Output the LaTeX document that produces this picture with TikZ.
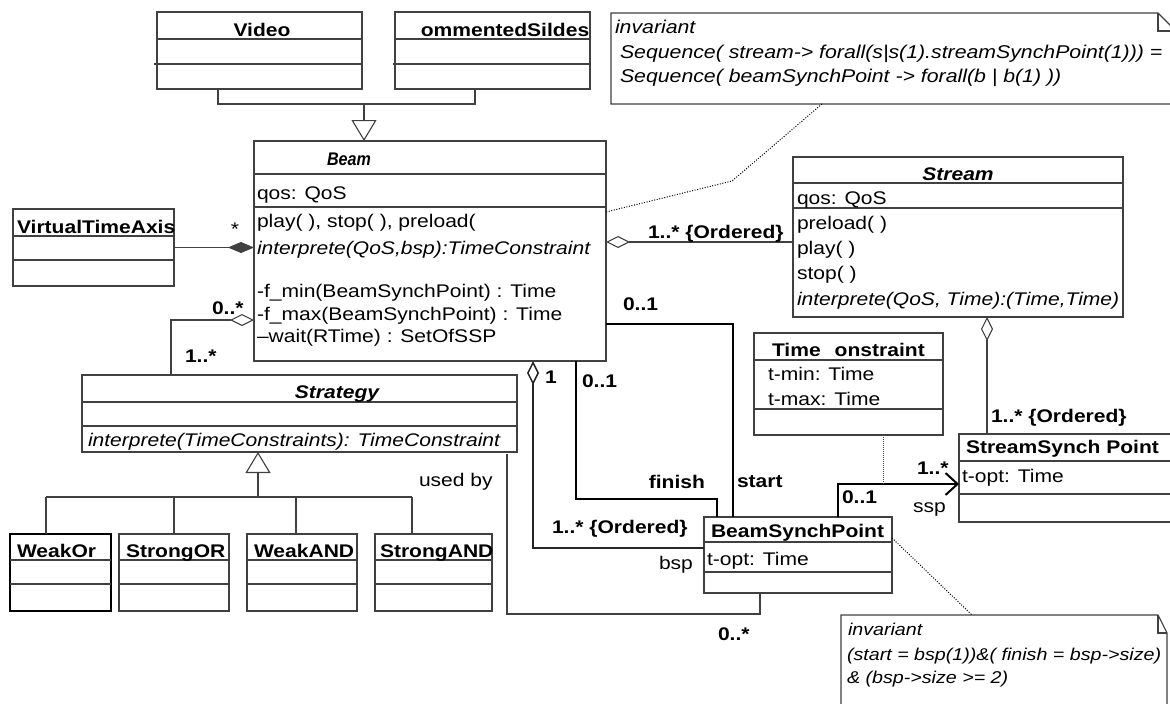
\documentclass[tikz,border=0pt]{standalone}
\usepackage{fontspec}
\setmainfont{Liberation Sans}[FakeStretch=1.15]
\newfontfamily\narrowfont{Liberation Sans}[FakeStretch=0.88]
\usetikzlibrary{arrows.meta}
\definecolor{linegray}{gray}{0.25}
\newcommand\umlfont{\fontsize{18.3}{22}\selectfont}
\newcommand\notesize{\fontsize{17.1}{22}\selectfont}
\newcommand\notebig{\fontsize{18.5}{22}\selectfont}
% class box: [options]{name}{x1}{y1}{x2}{y2}
\newcommand\umlclass[6][]{\node[umlbox,minimum width={#5-#3},minimum height={#6-#4},#1] (#2) at (#3,#4) {};}
% compartment separator across a class box
\newcommand\sepat[2]{\draw[sepline] (#1.west |- 0,#2) -- (#1.east |- 0,#2);}

\begin{document}
\begin{tikzpicture}[x=1pt,y=-1pt,
  umlbox/.style={draw=linegray,line width=1.1pt,inner sep=0pt,outer sep=0pt,anchor=north west},
  boldbox/.style={draw=black,line width=2pt},
  sepline/.style={draw=linegray,line width=1.1pt},
  txt/.style={inner sep=0pt,outer sep=0pt,anchor=base west,font=\umlfont},
  itxt/.style={txt,font=\umlfont\itshape},
  btxt/.style={txt,font=\umlfont\bfseries},
  ttl/.style={inner sep=0pt,outer sep=0pt,anchor=base,font=\umlfont\bfseries},
  ttlit/.style={ttl,font=\umlfont\bfseries\itshape},
  ntxt/.style={inner sep=0pt,outer sep=0pt,anchor=base west,font=\notebig\itshape},
  ntxtb/.style={inner sep=0pt,outer sep=0pt,anchor=base west,font=\notesize\itshape},
  assoc/.style={draw=linegray,line width=1.1pt},
  strongline/.style={draw=black,line width=2pt},
  midline/.style={draw=black!85,line width=1.5pt},
  noteline/.style={draw=black,line width=1pt,dash pattern=on 1pt off 1.6pt},
  odia/.style={arrows={Diamond[open,length=24pt,width=12pt]-}},
  fdia/.style={arrows={-Diamond[length=26pt,width=11pt]}},
  gen/.style={arrows={-Triangle[open,length=21pt,width=25pt]}},
  nav/.style={arrows={-Straight Barb[length=12pt,width=22pt]}},
]
\useasboundingbox (0,0) rectangle (1170,704);
\fill[white] (0,0) rectangle (1170,704);

% ---------- subclasses of Beam ----------
\umlclass{video}{157}{12}{362}{89}
\sepat{video}{39}
\draw[sepline] (154,64) -- (video.east |- 0,64);
\node[ttl] (video-name) at (262,36) {Video};

\umlclass{slides}{395}{12}{590}{89}
\sepat{slides}{39}
\draw[sepline] (393,64) -- (slides.east |- 0,64);
\node[ttl] (slides-name) at (505,36) {ommentedSildes};

% ---------- Beam ----------
\umlclass{beam}{254}{141}{606}{361}
\sepat{beam}{174}
\sepat{beam}{207}
\node[ttl,font=\narrowfont\umlfont\bfseries\itshape] (beam-name) at (349,165) {Beam};
\node[txt] (beam-attr) at (257,199) {qos: QoS};
\node[txt] (beam-op1) at (257,227) {play( ), stop( ), preload(};
\node[itxt] (beam-op2) at (257,254) {interprete(QoS,bsp):TimeConstraint};
\node[txt] (beam-op3) at (257,297) {-f\_min(BeamSynchPoint) : Time};
\node[txt] (beam-op4) at (257,320) {-f\_max(BeamSynchPoint) : Time};
\node[txt] (beam-op5) at (257,342) {–wait(RTime) : SetOfSSP};

% ---------- Stream ----------
\umlclass{stream}{793}{157}{1123}{317}
\sepat{stream}{183}
\sepat{stream}{208}
\node[ttlit] (stream-name) at (958,180) {Stream};
\node[txt] (stream-attr) at (797,204) {qos: QoS};
\node[txt] (stream-op1) at (797,229) {preload( )};
\node[txt] (stream-op2) at (797,254) {play( )};
\node[txt] (stream-op3) at (797,279) {stop( )};
\node[itxt] (stream-op4) at (797,305) {interprete(QoS, Time):(Time,Time)};

% ---------- VirtualTimeAxis ----------
\umlclass{vta}{13}{209}{174}{286}
\sepat{vta}{236}
\sepat{vta}{260}
\node[btxt] (vta-name) at (17,233) {VirtualTimeAxis};

% ---------- Strategy and its variants ----------
\umlclass{strategy}{82}{375}{517}{452}
\sepat{strategy}{402}
\sepat{strategy}{426}
\node[ttlit] (strategy-name) at (337,398) {Strategy};
\node[itxt] (strategy-op) at (88,446) {interprete(TimeConstraints): TimeConstraint};

\umlclass[boldbox]{weakor}{10}{534}{111}{611}
\sepat{weakor}{560}
\sepat{weakor}{584}
\node[btxt] (weakor-name) at (17,557) {WeakOr};

\umlclass{strongor}{119}{534}{229}{611}
\sepat{strongor}{560}
\sepat{strongor}{584}
\node[btxt] (strongor-name) at (126,557) {StrongOR};

\umlclass{weakand}{247}{534}{357}{611}
\sepat{weakand}{560}
\sepat{weakand}{584}
\node[btxt] (weakand-name) at (254,557) {WeakAND};

\umlclass{strongand}{375}{534}{492}{611}
\sepat{strongand}{560}
\sepat{strongand}{584}
\node[btxt] (strongand-name) at (380,557) {StrongAND};

% ---------- TimeConstraint ----------
\umlclass{tc}{754}{333}{943}{435}
\sepat{tc}{360}
\sepat{tc}{409}
\node[btxt] (tc-name) at (772,356) {Time\hspace{14pt}onstraint};
\node[txt] (tc-attr1) at (768,380) {t-min: Time};
\node[txt] (tc-attr2) at (768,405) {t-max: Time};

% ---------- StreamSynch Point ----------
\umlclass{ssync}{959}{434}{1182}{522}
\sepat{ssync}{461}
\sepat{ssync}{494}
\node[btxt] (ssync-name) at (966,453) {StreamSynch Point};
\node[txt] (ssync-attr) at (962,482) {t-opt: Time};

% ---------- BeamSynchPoint ----------
\umlclass{bsp}{704}{517}{892}{593}
\sepat{bsp}{542}
\sepat{bsp}{572}
\node[btxt] (bsp-name) at (711,537) {BeamSynchPoint};
\node[txt] (bsp-attr) at (707,565) {t-opt: Time};

% ---------- notes ----------
\node[inner sep=0pt,outer sep=0pt,minimum width=565,minimum height=91,anchor=north west] (note1) at (611,13) {};
\draw[sepline] (note1.north west) -- (1158,13) -- (1176,31) -- (1176,104) -- (note1.south west) -- cycle;
\draw[sepline] (1158,13) -- (1158,31) -- (1176,31);
\node[ntxt] (note1-l1) at (615,33) {invariant};
\node[ntxt] (note1-l2) at (620,58) {Sequence( stream-> forall(s|s(1).streamSynchPoint(1))) =};
\node[ntxt] (note1-l3) at (620,82) {Sequence( beamSynchPoint -> forall(b | b(1) ))};

\node[inner sep=0pt,outer sep=0pt,minimum width=326,minimum height=95,anchor=north west] (note2) at (841,615) {};
\draw[sepline] (note2.south west) -- (note2.north west) -- (1158,615) -- (1167,633) -- (1167,712);
\draw[sepline] (1158,615) -- (1158,633) -- (1167,633);
\node[ntxtb] (note2-l1) at (848,635) {invariant};
\node[ntxtb] (note2-l2) at (847,660) {(start = bsp(1))\&( finish = bsp->size)};
\node[ntxtb] (note2-l3) at (847,683) {\& (bsp->size >= 2)};

% ---------- generalizations ----------
\draw[assoc] (video.south -| 218,0) |- (475,104) -- (slides.south -| 475,0);
\draw[assoc,gen] (364,104) -- (beam.north -| 364,0);
\draw[assoc,gen] (258,497) -- (strategy.south -| 258,0);
\draw[assoc] (46,497) -- (412,497);
\draw[assoc] (46,497) -- (weakor.north -| 46,0);
\draw[assoc] (174,497) -- (strongor.north -| 174,0);
\draw[assoc] (296,497) -- (weakand.north -| 296,0);
\draw[assoc] (412,497) -- (strongand.north -| 412,0);

% ---------- associations ----------
\draw[assoc,fdia] (vta.east) -- (beam.west |- vta.east);
\node[inner sep=0pt,anchor=base,font=\umlfont] (vta-mult) at (235,235) {*};

\draw[assoc,odia] (beam.west |- 0,320) -| (strategy.north -| 171,0);
\node[btxt] (strat-mult1) at (212,314) {0..*};
\node[btxt] (strat-mult2) at (185,362) {1..*};

\draw[assoc,odia] (beam.east |- 0,242) -- (stream.west |- 0,242);
\node[btxt] (stream-mult) at (648,238) {1..* \{Ordered\}};

\draw[strongline] (beam.east |- 0,324) -| (bsp.north -| 733,0);
\node[btxt] (start-mult) at (623,310) {0..1};
\node[btxt] (start-role) at (737,487) {start};

\draw[strongline] (beam.south -| 576,0) |- (717,499) -- (bsp.north -| 717,0);
\node[btxt] (finish-mult) at (582,387) {0..1};
\node[btxt,anchor=base east] (finish-role) at (705,488) {finish};

\draw[midline,odia] (beam.south -| 533,0) |- (bsp.west |- 0,548);
\node[btxt] (bsp-mult1) at (545,383) {1};
\node[btxt] (bsp-mult2) at (552,533) {1..* \{Ordered\}};
\node[txt] (bsp-role) at (659,569) {bsp};

\draw[assoc] ([yshift=-2pt]strategy.south -| 507,0) |- (760,614) -- (bsp.south -| 760,0);
\node[txt] (usedby) at (419,486) {used by};
\node[btxt] (usedby-mult) at (718,640) {0..*};

\draw[assoc,odia] (stream.south -| 987,0) -- (ssync.north -| 987,0);
\node[btxt] (ssync-mult) at (991,422) {1..* \{Ordered\}};

\draw[strongline,nav] (bsp.north -| 838,0) |- (ssync.west |- 0,484);
\coordinate (ssp-link) at (883,484);
\node[btxt] (ssp-mult1) at (842,503) {0..1};
\node[btxt] (ssp-mult2) at (917,474) {1..*};
\node[txt] (ssp-role) at (913,512) {ssp};
\draw[draw=black!70,line width=0.8pt,dash pattern=on 1pt off 1pt] (tc.south -| ssp-link) -- (ssp-link);

% ---------- note anchors ----------
\draw[noteline] (note1.south -| 822,0) -- (732,181) -- (beam.east |- 0,212);
\draw[noteline] (bsp.east |- 0,538) -- (note2.north -| 972,0);
\end{tikzpicture}
\end{document}
